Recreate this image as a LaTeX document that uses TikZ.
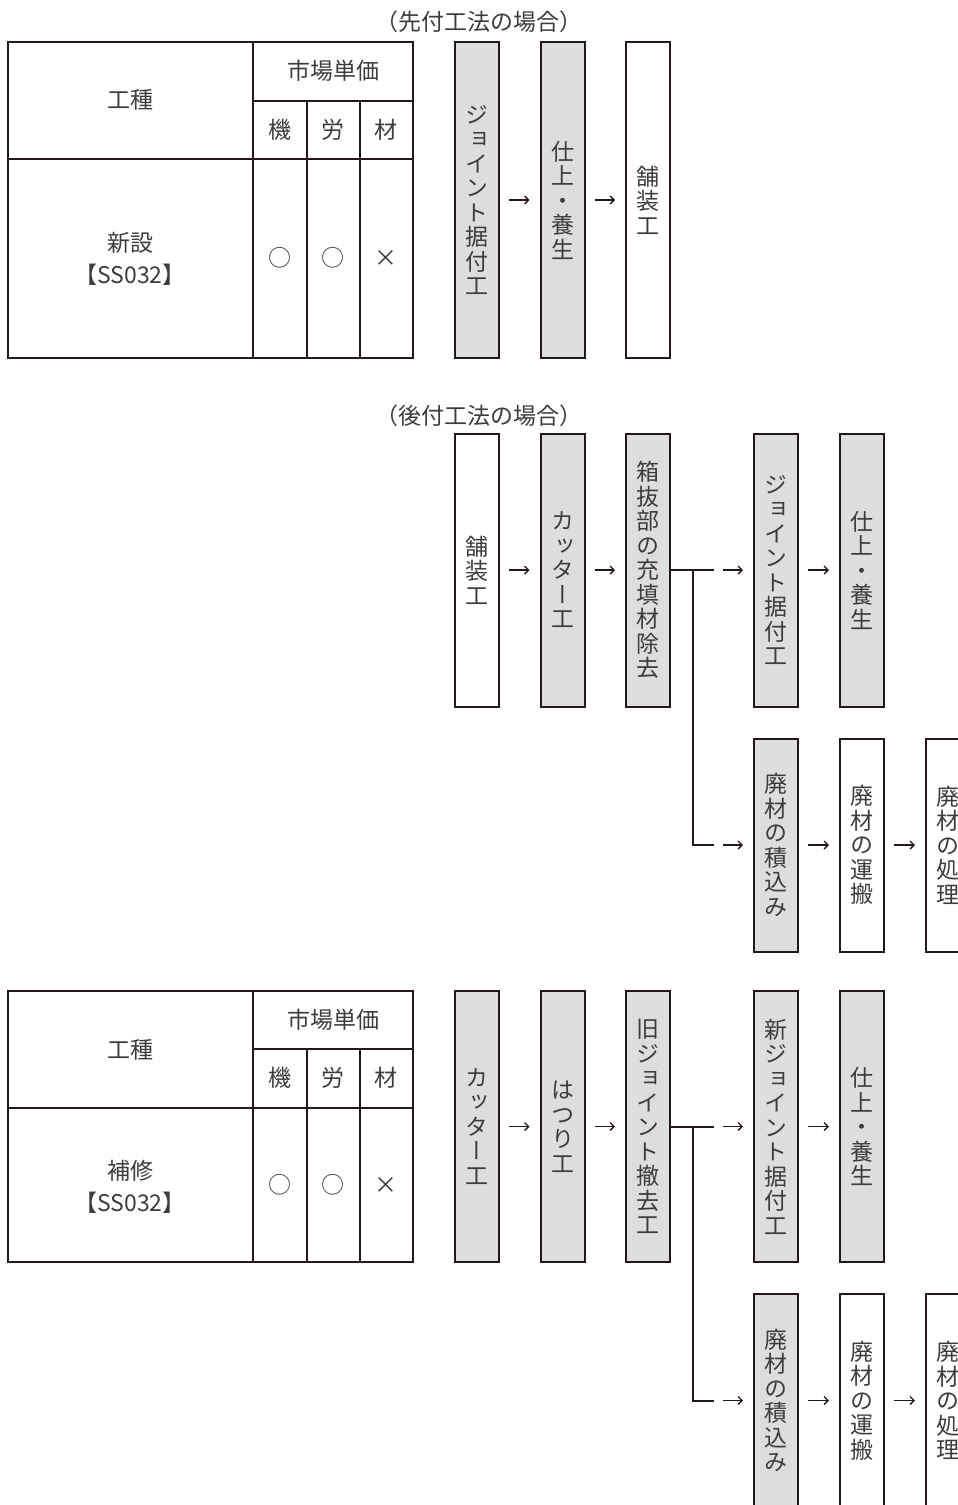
\documentclass[tikz,border=0pt]{standalone}
\usepackage{fontspec}
\usetikzlibrary{arrows.meta,positioning,calc}
\setmainfont{Noto Sans CJK JP}
\newfontfamily\tatefont[RawFeature=+vert]{Noto Sans CJK JP}
\definecolor{FlowInk}{HTML}{231815}
\definecolor{FlowText}{HTML}{3C3C3C}
\definecolor{FlowGray}{HTML}{DCDDDD}
\makeatletter
\newcommand\tate[1]{\vbox{\tatefont\baselineskip=24.5pt\lineskiplimit=-\maxdimen\@tfor\tate@c:=#1\do{\hbox to 1em{\hss\tate@c\hss}}}}
\makeatother
\tikzset{work/.style={draw=FlowInk,line width=2pt,fill=FlowGray,minimum width=44pt,inner sep=0pt,font=\fontsize{23}{24.5}\selectfont,text=FlowText},
plain/.style={work,fill=white},
arr/.style={-{Straight Barb[length=4pt,width=8pt]},line width=1.3pt,FlowInk,shorten <=9pt,shorten >=10pt},
grid/.style={draw=FlowInk,line width=2pt},
cell/.style={font=\fontsize{23}{32}\selectfont,text=FlowText,align=center,inner sep=0pt}}

\begin{document}
\begin{tikzpicture}[x=1pt,y=-1pt]
\useasboundingbox (0,0) rectangle (958,1505);
\clip (0,0) rectangle (958,1505);
% new construction
\node[cell] (cap1) at (479,22) {（先付工法の場合）};
\draw[grid] (8,42) rectangle (413,358);
\draw[grid] (253,42) -- (253,358) (8,159) -- (413,159) (253,101) -- (413,101) (307,101) -- (307,358) (360,101) -- (360,358);
\node[cell] (kind1) at (130,100) {工種};
\node[cell] (price1) at (333,71) {市場単価};
\node[cell] (mach1) at (280,130) {機}; \node[cell] (lab1) at (333,130) {労}; \node[cell] (mat1) at (386,130) {材};
\node[cell] (name1) at (130,259) {新設\\【SS032】};
\node[cell] (ym1) at (280,258) {○}; \node[cell] (yl1) at (333,258) {○}; \node[cell] (nm1) at (386,258) {×};
\node[work,minimum height=316pt] (j1) at (477,200) {\tate{ジョイント据付工}};
\node[work,minimum height=316pt] (f1) at (562.5,200) {\tate{仕上・養生}};
\node[plain,minimum height=316pt] (p1) at (648,200) {\tate{舗装工}};
\draw[arr] (j1) -- (f1); \draw[arr] (f1) -- (p1);
% retrofit
\node[cell] (cap2) at (479,416) {（後付工法の場合）};
\node[plain,minimum height=273pt] (p2) at (477,570) {\tate{舗装工}};
\node[work,minimum height=273pt] (c2) at (562.5,570) {\tate{カッター工}};
\node[work,minimum height=273pt] (h2) at (648,570) {\tate{箱抜部の充填材除去}};
\node[work,minimum height=273pt] (j2) at (776,570) {\tate{ジョイント据付工}};
\node[work,minimum height=273pt] (f2) at (862,570) {\tate{仕上・養生}};
\node[work,minimum height=213pt] (w2) at (776,845) {\tate{廃材の積込み}};
\node[plain,minimum height=213pt] (t2) at (862,845) {\tate{廃材の運搬}};
\node[plain,minimum height=213pt] (d2) at (948,845) {\tate{廃材の処理}};
\coordinate (s2) at ($(h2.east)+(43,0)$);
\coordinate (u2) at (s2 |- w2.west);
\draw[grid] (h2.east) -- (s2); \draw[grid] ($(h2.east)!.5!(s2)$) |- (u2);
\draw[arr] (p2) -- (c2); \draw[arr] (c2) -- (h2); \draw[arr] (s2) -- (s2 -| j2.west); \draw[arr] (j2) -- (f2);
\draw[arr] (u2) -- (w2); \draw[arr] (w2) -- (t2); \draw[arr] (t2) -- (d2);
% repair
\draw[grid] (8,991) rectangle (413,1262);
\draw[grid] (253,991) -- (253,1262) (8,1108) -- (413,1108) (253,1049) -- (413,1049) (307,1049) -- (307,1262) (360,1049) -- (360,1262);
\node[cell] (kind3) at (130,1050) {工種};
\node[cell] (price3) at (333,1020) {市場単価};
\node[cell] (mach3) at (280,1078) {機}; \node[cell] (lab3) at (333,1078) {労}; \node[cell] (mat3) at (386,1078) {材};
\node[cell] (name3) at (130,1187) {補修\\【SS032】};
\node[cell] (ym3) at (280,1185) {○}; \node[cell] (yl3) at (333,1185) {○}; \node[cell] (nm3) at (386,1185) {×};
\node[work,minimum height=271pt] (c3) at (477,1126.5) {\tate{カッター工}};
\node[work,minimum height=271pt] (h3) at (562.5,1126.5) {\tate{はつり工}};
\node[work,minimum height=271pt] (o3) at (648,1126.5) {\tate{旧ジョイント撤去工}};
\node[work,minimum height=271pt] (n3) at (776,1126.5) {\tate{新ジョイント据付工}};
\node[work,minimum height=271pt] (f3) at (862,1126.5) {\tate{仕上・養生}};
\node[work,minimum height=213pt] (w3) at (776,1400.5) {\tate{廃材の積込み}};
\node[plain,minimum height=213pt] (t3) at (862,1400.5) {\tate{廃材の運搬}};
\node[plain,minimum height=213pt] (d3) at (948,1400.5) {\tate{廃材の処理}};
\coordinate (s3) at ($(o3.east)+(43,0)$);
\coordinate (u3) at (s3 |- w3.west);
\draw[grid] (o3.east) -- (s3); \draw[grid] ($(o3.east)!.5!(s3)$) |- (u3);
\draw[arr] (c3) -- (h3); \draw[arr] (h3) -- (o3); \draw[arr] (s3) -- (s3 -| n3.west); \draw[arr] (n3) -- (f3);
\draw[arr] (u3) -- (w3); \draw[arr] (w3) -- (t3); \draw[arr] (t3) -- (d3);
\end{tikzpicture}
\end{document}
